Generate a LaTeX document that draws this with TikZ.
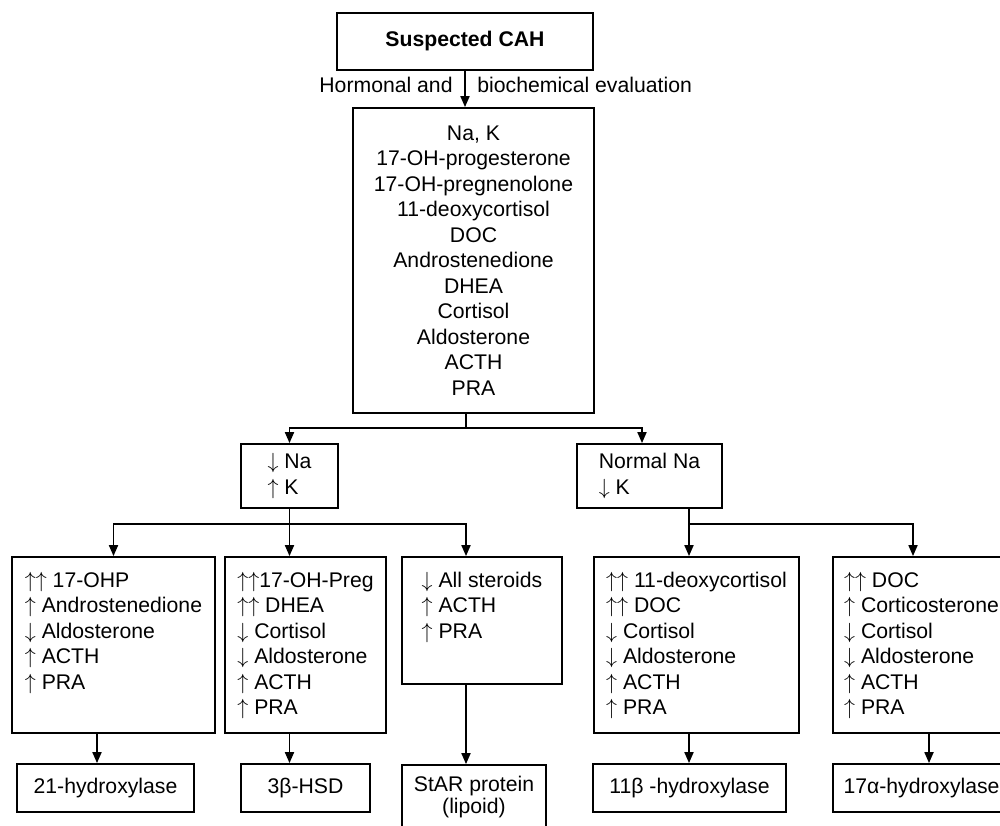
\documentclass[tikz,border=0pt]{standalone}
\usepackage{fontspec}
\setmainfont{Liberation Sans}
\usetikzlibrary{arrows.meta}

\tikzstyle{box} = [rectangle, draw=black, line width=0.9pt, inner sep=0pt]
\tikzstyle{list} = [align=left, inner sep=0pt, anchor=north]
\tikzstyle{line} = [line width=0.9pt]
\tikzstyle{arrow} = [line width=0.9pt, -{Triangle[width=4.5pt,length=5.5pt]}]

\newcommand{\incr}{$\uparrow$}
\newcommand{\decr}{$\downarrow$}

\begin{document}
\begin{tikzpicture}[x=0.5pt, y=-0.5pt, every node/.style={font=\fontsize{10.6}{12.75}\selectfont}]
\useasboundingbox (0,0) rectangle (1000,825);

% workup
\node (cah) [box, minimum width=128pt, minimum height=28.5pt] at (465,41.5) {\bfseries Suspected CAH};
\node (hormonal) [anchor=east, inner sep=0pt] at (453,85) {Hormonal and};
\node (biochem) [anchor=west, inner sep=0pt] at (477,85) {biochemical evaluation};
\node (tests) [box, align=center, minimum width=120.5pt, minimum height=152.5pt] at (473.5,260.5)
  {Na, K\\17-OH-progesterone\\17-OH-pregnenolone\\11-deoxycortisol\\DOC\\Androstenedione\\DHEA\\Cortisol\\Aldosterone\\ACTH\\PRA};

% electrolytes
\node (lowna) [box, align=left, minimum width=48.5pt, minimum height=32pt] at (289.5,476) {\decr\ Na\\\incr\ K};
\node (normna) [box, align=left, minimum width=72.5pt, minimum height=32pt] at (649.5,476) {Normal Na\\\decr\ K};

% hormone profiles
\node (p21) [box, minimum width=101.5pt, minimum height=88pt] at (113.5,645) {};
\node (p21txt) [list] at ([yshift=-7.7pt]p21.north)
  {\incr\incr\ 17-OHP\\\incr\ Androstenedione\\\decr\ Aldosterone\\\incr\ ACTH\\\incr\ PRA};
\node (p3b) [box, minimum width=80.5pt, minimum height=88pt] at (305.5,645) {};
\node (p3btxt) [list] at ([yshift=-7.7pt]p3b.north)
  {\incr\incr17-OH-Preg\\\incr\incr\ DHEA\\\decr\ Cortisol\\\decr\ Aldosterone\\\incr\ ACTH\\\incr\ PRA};
\node (plip) [box, minimum width=80pt, minimum height=63.5pt] at (482,620.5) {};
\node (pliptxt) [list] at ([yshift=-7.7pt]plip.north)
  {\decr\ All steroids\\\incr\ ACTH\\\incr\ PRA};
\node (p11) [box, minimum width=102.5pt, minimum height=88pt] at (696.5,645) {};
\node (p11txt) [list] at ([yshift=-7.7pt]p11.north)
  {\incr\incr\ 11-deoxycortisol\\\incr\incr\ DOC\\\decr\ Cortisol\\\decr\ Aldosterone\\\incr\ ACTH\\\incr\ PRA};
\node (p17) [box, minimum width=88.5pt, minimum height=88pt] at (921.5,645) {};
\node (p17txt) [list] at ([yshift=-7.7pt]p17.north)
  {\incr\incr\ DOC\\\incr\ Corticosterone\\\decr\ Cortisol\\\decr\ Aldosterone\\\incr\ ACTH\\\incr\ PRA};

% enzyme defects
\node (e21) [box, minimum width=88.5pt, minimum height=24pt] at (105.5,788) {21-hydroxylase};
\node (e3b) [box, minimum width=64.5pt, minimum height=24pt] at (305.5,788) {3β-HSD};
\node (estar) [box, minimum width=72pt, minimum height=37.5pt] at (474,802.5) {};
\node (estartxt) [align=center, inner sep=0pt, anchor=north, font=\fontsize{10.6}{9.5}\selectfont]
  at ([yshift=-6pt]estar.north) {StAR protein\\(lipoid)};
\node (e11) [box, minimum width=96.5pt, minimum height=24pt] at (689.5,788) {11β -hydroxylase};
\node (e17) [box, minimum width=88.5pt, minimum height=24pt] at (921.5,788) {17α-hydroxylase};

\coordinate (fork1) at (466,428);
\coordinate (fork2) at (289.5,524);
\coordinate (fork3) at (689,524);

\draw [arrow] (cah) -- (cah.south |- tests.north);

\draw [line] (tests.south -| fork1) -- (fork1);
\draw [arrow] (fork1) -| (lowna.north);
\draw [arrow] (fork1) -| (normna.north -| 642,0);

\draw [line] (lowna) -- (fork2);
\draw [arrow] (fork2) -| (p21.north);
\draw [arrow] (fork2) -- (p3b.north -| fork2);
\draw [arrow] (fork2) -| (plip.north -| fork1);

\draw [line] (normna.south -| fork3) -- (fork3);
\draw [arrow] (fork3) -- (p11.north -| fork3);
\draw [arrow] (fork3) -| (p17.north -| 913,0);

\draw [arrow] (p21.south -| 97,0) -- (e21.north -| 97,0);
\draw [arrow] (p3b.south -| fork2) -- (e3b.north -| fork2);
\draw [arrow] (plip.south -| fork1) -- (estar.north -| fork1);
\draw [arrow] (p11.south -| fork3) -- (e11.north -| fork3);
\draw [arrow] (p17.south -| 929,0) -- (e17.north -| 929,0);

\end{tikzpicture}
\end{document}
